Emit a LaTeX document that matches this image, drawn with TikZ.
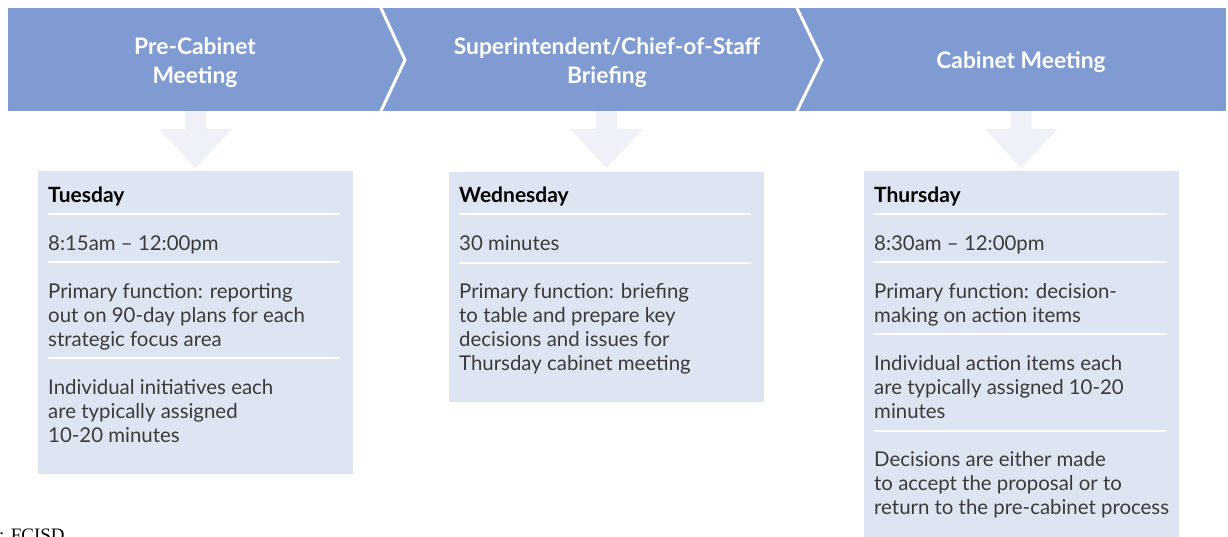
\documentclass[tikz,border=0pt]{standalone}
\usepackage{fontspec}
\setmainfont{Lato}
\newfontfamily\notefont{Liberation Serif}
\definecolor{bannerblue}{HTML}{809BD1}
\definecolor{cardfill}{HTML}{DEE5F2}
\definecolor{arrowfill}{HTML}{EEF2F8}
\definecolor{bodygray}{HTML}{3A3A3A}
\newcommand\cardlines[4]{% name prefix, x, first baseline, lines
  \foreach \ln [count=\k from 0] in {#4}{%
    \node[bodytxt] (#1-\k) at (#2,#3+24*\k) {\ln};}}
\begin{document}
\begin{tikzpicture}[x=1pt,y=-1pt,
  title/.style={text=white,font=\fontsize{22.8}{29}\selectfont\bfseries,align=center,inner sep=0pt},
  card/.style={fill=cardfill,draw=none},
  bodytxt/.style={text=bodygray,font=\fontsize{20.4}{24}\selectfont,anchor=base west,inner sep=0pt},
  daytxt/.style={text=black,font=\fontsize{21}{24}\selectfont\bfseries,anchor=base west,inner sep=0pt},
  rule/.style={draw=white,line width=1.6pt},
  chev/.style={draw=white,line width=3pt},
  downarrow/.style={fill=arrowfill,draw=none}]
\useasboundingbox (0,0) rectangle (1228,536);
\begin{scope}
\clip (0,0) rectangle (1228,536);

% banner with chevron separators
\fill[bannerblue] (8,8) rectangle (1226,111);
\draw[chev] (380,6) -- (405,60) -- (380,113);
\draw[chev] (796,6) -- (822,60) -- (796,113);

\node[title] (s1) at (195,63) {Pre-Cabinet\\Meeting};
\node[title] (s2) at (607,63) {Superintendent/Chief-of-Staff\\Briefing};
\node[title] (s3) at (1021,62) {Cabinet Meeting};

% light arrows from the banner down to each card
\foreach \cx in {195.5,606.5,1021}{
  \fill[downarrow] (\cx-10.5,111) -- (\cx+10.5,111) -- (\cx+10.5,129) -- (\cx+36.5,129)
    -- (\cx,168) -- (\cx-36.5,129) -- (\cx-10.5,129) -- cycle;
}

% cards
\fill[card] (38,171) rectangle (353,474);
\fill[card] (449,172) rectangle (764,402);
\fill[card] (864,171) rectangle (1179,560);

% card 1
\node[daytxt] (d1) at (48,202) {Tuesday};
\foreach \y in {214,262,358} \draw[rule] (48,\y) -- (340,\y);
\cardlines{a1}{48}{250}{8:15am – 12:00pm}
\cardlines{a2}{48}{298}{Primary function: reporting,out on 90-day plans for each,strategic focus area}
\cardlines{a3}{48}{394}{Individual initiatives each,are typically assigned,10-20 minutes}

% card 2
\node[daytxt] (d2) at (459,202) {Wednesday};
\foreach \y in {214,263} \draw[rule] (459,\y) -- (751,\y);
\cardlines{b1}{459}{250}{30 minutes}
\cardlines{b2}{459}{298}{Primary function: briefing,to table and prepare key,decisions and issues for,Thursday cabinet meeting}

% card 3
\node[daytxt] (d3) at (874,202) {Thursday};
\foreach \y in {214,262,334,431} \draw[rule] (874,\y) -- (1166,\y);
\cardlines{c1}{874}{250}{8:30am – 12:00pm}
\cardlines{c2}{874}{298}{Primary function: decision-,making on action items}
\cardlines{c3}{874}{370}{Individual action items each,are typically assigned 10-20,minutes}
\cardlines{c4}{874}{466}{Decisions are either made,to accept the proposal or to,return to the pre-cabinet process}

% source note
\node[font=\fontsize{19}{19}\selectfont\notefont,anchor=base west,inner sep=0pt] (src) at (-1,541) {: FCISD};
\end{scope}
\end{tikzpicture}
\end{document}
